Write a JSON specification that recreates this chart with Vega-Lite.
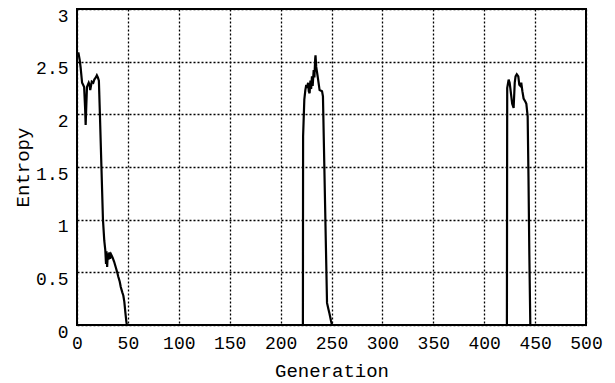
{
  "$schema": "https://vega.github.io/schema/vega-lite/v6.json",
  "autosize": "none",
  "padding": {"left": 77, "top": 9, "right": 29, "bottom": 58},
  "width": 509,
  "height": 316,
  "background": "white",
  "config": {
    "view": {"stroke": "black", "strokeWidth": 2},
    "font": "Liberation Mono",
    "axis": {
      "labelFont": "Liberation Mono",
      "titleFont": "Liberation Mono",
      "labelColor": "black",
      "titleColor": "black",
      "labelFontSize": 18,
      "titleFontSize": 19,
      "titleFontWeight": "normal",
      "domain": false,
      "ticks": false,
      "grid": true,
      "gridColor": "black",
      "gridOpacity": 1,
      "gridWidth": 1.3,
      "gridDash": [2, 2]
    }
  },
  "data": {
    "values": [
      {"generation": 0, "entropy": 2.55},
      {"generation": 0.6, "entropy": 2.58},
      {"generation": 1.5, "entropy": 2.58},
      {"generation": 2.6, "entropy": 2.52},
      {"generation": 3.5, "entropy": 2.45},
      {"generation": 5, "entropy": 2.30},
      {"generation": 6, "entropy": 2.28},
      {"generation": 7, "entropy": 2.26},
      {"generation": 8, "entropy": 2.05},
      {"generation": 8.5, "entropy": 1.90},
      {"generation": 9.2, "entropy": 2.10},
      {"generation": 9.8, "entropy": 2.26},
      {"generation": 11.5, "entropy": 2.30},
      {"generation": 12.3, "entropy": 2.28},
      {"generation": 13, "entropy": 2.23},
      {"generation": 14.5, "entropy": 2.31},
      {"generation": 16, "entropy": 2.30},
      {"generation": 17, "entropy": 2.33},
      {"generation": 18.5, "entropy": 2.35},
      {"generation": 19.5, "entropy": 2.37},
      {"generation": 20.5, "entropy": 2.35},
      {"generation": 21.5, "entropy": 2.32},
      {"generation": 22.5, "entropy": 2.0},
      {"generation": 24, "entropy": 1.5},
      {"generation": 25.5, "entropy": 1.0},
      {"generation": 26.8, "entropy": 0.8},
      {"generation": 27.8, "entropy": 0.71},
      {"generation": 28.5, "entropy": 0.58},
      {"generation": 29, "entropy": 0.70},
      {"generation": 29.6, "entropy": 0.55},
      {"generation": 30.3, "entropy": 0.68},
      {"generation": 31, "entropy": 0.62},
      {"generation": 31.8, "entropy": 0.69},
      {"generation": 32.5, "entropy": 0.63},
      {"generation": 33.5, "entropy": 0.67},
      {"generation": 35, "entropy": 0.64},
      {"generation": 36.5, "entropy": 0.60},
      {"generation": 38, "entropy": 0.55},
      {"generation": 39.5, "entropy": 0.50},
      {"generation": 40.5, "entropy": 0.46},
      {"generation": 42, "entropy": 0.41},
      {"generation": 43, "entropy": 0.36},
      {"generation": 44.5, "entropy": 0.31},
      {"generation": 45.5, "entropy": 0.28},
      {"generation": 46.5, "entropy": 0.22},
      {"generation": 47.5, "entropy": 0.12},
      {"generation": 48.5, "entropy": 0.03},
      {"generation": 49, "entropy": 0},
      {"generation": 221.9, "entropy": 0},
      {"generation": 222.1, "entropy": 1.79},
      {"generation": 223.3, "entropy": 2.14},
      {"generation": 224.3, "entropy": 2.23},
      {"generation": 225.2, "entropy": 2.28},
      {"generation": 226, "entropy": 2.25},
      {"generation": 227, "entropy": 2.30},
      {"generation": 227.7, "entropy": 2.22},
      {"generation": 228.5, "entropy": 2.20},
      {"generation": 229.3, "entropy": 2.32},
      {"generation": 230, "entropy": 2.24},
      {"generation": 230.8, "entropy": 2.36},
      {"generation": 231.5, "entropy": 2.27},
      {"generation": 232.5, "entropy": 2.42},
      {"generation": 233.2, "entropy": 2.35},
      {"generation": 234, "entropy": 2.53},
      {"generation": 234.3, "entropy": 2.56},
      {"generation": 235, "entropy": 2.45},
      {"generation": 236.4, "entropy": 2.36},
      {"generation": 238.3, "entropy": 2.23},
      {"generation": 240.7, "entropy": 2.22},
      {"generation": 241.6, "entropy": 2.17},
      {"generation": 242.6, "entropy": 1.68},
      {"generation": 243.6, "entropy": 1.19},
      {"generation": 244.6, "entropy": 0.70},
      {"generation": 245.6, "entropy": 0.21},
      {"generation": 247, "entropy": 0.15},
      {"generation": 248, "entropy": 0.11},
      {"generation": 249.5, "entropy": 0.04},
      {"generation": 250.5, "entropy": 0},
      {"generation": 422.3, "entropy": 0},
      {"generation": 422.6, "entropy": 2.25},
      {"generation": 424, "entropy": 2.33},
      {"generation": 425, "entropy": 2.30},
      {"generation": 426, "entropy": 2.22},
      {"generation": 427.5, "entropy": 2.10},
      {"generation": 428.9, "entropy": 2.06},
      {"generation": 430, "entropy": 2.30},
      {"generation": 430.8, "entropy": 2.36},
      {"generation": 432, "entropy": 2.38},
      {"generation": 433.5, "entropy": 2.36},
      {"generation": 434.5, "entropy": 2.28},
      {"generation": 435.5, "entropy": 2.27},
      {"generation": 436.4, "entropy": 2.30},
      {"generation": 437.5, "entropy": 2.22},
      {"generation": 438.7, "entropy": 2.15},
      {"generation": 440.5, "entropy": 2.12},
      {"generation": 441.4, "entropy": 2.10},
      {"generation": 442.7, "entropy": 1.98},
      {"generation": 443.5, "entropy": 1.40},
      {"generation": 444.3, "entropy": 0.70},
      {"generation": 445.3, "entropy": 0},
      {"generation": 500, "entropy": 0}
    ]
  },
  "mark": {"type": "line", "color": "black", "strokeWidth": 2.2, "clip": true},
  "encoding": {
    "x": {
      "field": "generation",
      "type": "quantitative",
      "scale": {"domain": [0, 500], "nice": false, "zero": false},
      "axis": {
        "title": "Generation",
        "values": [0, 50, 100, 150, 200, 250, 300, 350, 400, 450, 500],
        "labelPadding": 9,
        "titlePadding": 9,
        "labelFlush": false
      }
    },
    "y": {
      "field": "entropy",
      "type": "quantitative",
      "scale": {"domain": [0, 3], "nice": false},
      "axis": {
        "title": "Entropy",
        "values": [0, 0.5, 1, 1.5, 2, 2.5, 3],
        "format": "~g",
        "labelPadding": 9,
        "labelBaseline": "top",
        "labelOffset": -2,
        "labelFlush": false,
        "titlePadding": 3
      }
    }
  }
}
